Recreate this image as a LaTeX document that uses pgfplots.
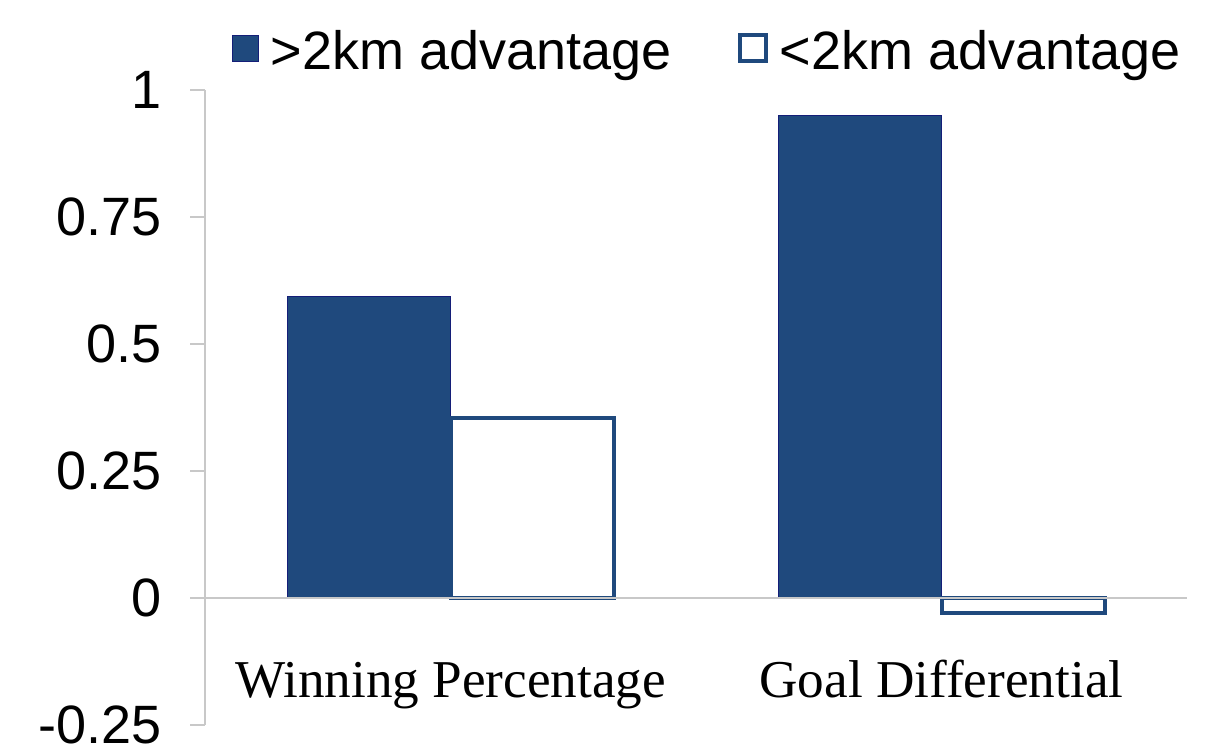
\documentclass[border=0pt]{standalone}
\usepackage{pgfplots}
\pgfplotsset{compat=1.18}
\usepackage{fontspec}
\setmainfont{Liberation Sans}
\newfontfamily\seriffont{Liberation Serif}
\definecolor{navyfill}{RGB}{31,73,125}
\definecolor{navyedge}{RGB}{20,30,120}
\definecolor{axgray}{RGB}{200,200,200}
\begin{document}
\begin{tikzpicture}
\begin{axis}[
  scale only axis,
  width=491pt, height=317.5pt,
  xmin=-0.5, xmax=1.5,
  ymin=-0.25, ymax=1,
  ybar=0pt,
  bar width=81.5pt,
  clip=false,
  axis x line*=bottom,
  axis y line*=left,
  x axis line style={draw=none},
  y axis line style={draw=axgray, line width=0.8pt},
  xtick={0,1},
  xticklabels={Winning Percentage, Goal Differential},
  xtick style={draw=none},
  xticklabel style={font=\seriffont\fontsize{26.6}{30}\selectfont, anchor=base, yshift=21pt},
  ytick={-0.25,0,0.25,0.5,0.75,1},
  yticklabels={-0.25,0,0.25,0.5,0.75,1},
  ytick style={draw=axgray, line width=0.8pt},
  tick align=outside,
  major tick length=7.5pt,
  yticklabel style={font=\fontsize{27}{31}\selectfont, xshift=-10.5pt},
  /pgf/number format/assume math mode=true,
  legend style={at={(0.5,1)}, anchor=south, xshift=6pt, yshift=4.5pt, draw=none, fill=none,
    font=\fontsize{27}{31}\selectfont, legend columns=2,
    /tikz/every even column/.append style={column sep=31pt}},
  legend image code/.code={\draw[#1] (0pt,-5pt) rectangle (13pt,8pt); \path (17pt,0pt);},
]
\addplot[fill=navyfill, draw=navyedge, line width=0.6pt] coordinates {(0,0.593) (1,0.950)};
\addlegendentry{>2km advantage}
\addplot[fill=white, draw=navyfill, line width=2pt] coordinates {(0,0.355) (1,-0.030)};
\addlegendentry{<2km advantage}
\draw[axgray, line width=0.8pt] (axis cs:-0.5,0) -- (axis cs:1.5,0);
\coordinate (bl) at (rel axis cs:-0.2088,-0.0394);
\coordinate (tr) at (rel axis cs:1.0448,1.1417);
\end{axis}
\pgfresetboundingbox
\path[use as bounding box] (bl) rectangle (tr);
\end{tikzpicture}
\end{document}
